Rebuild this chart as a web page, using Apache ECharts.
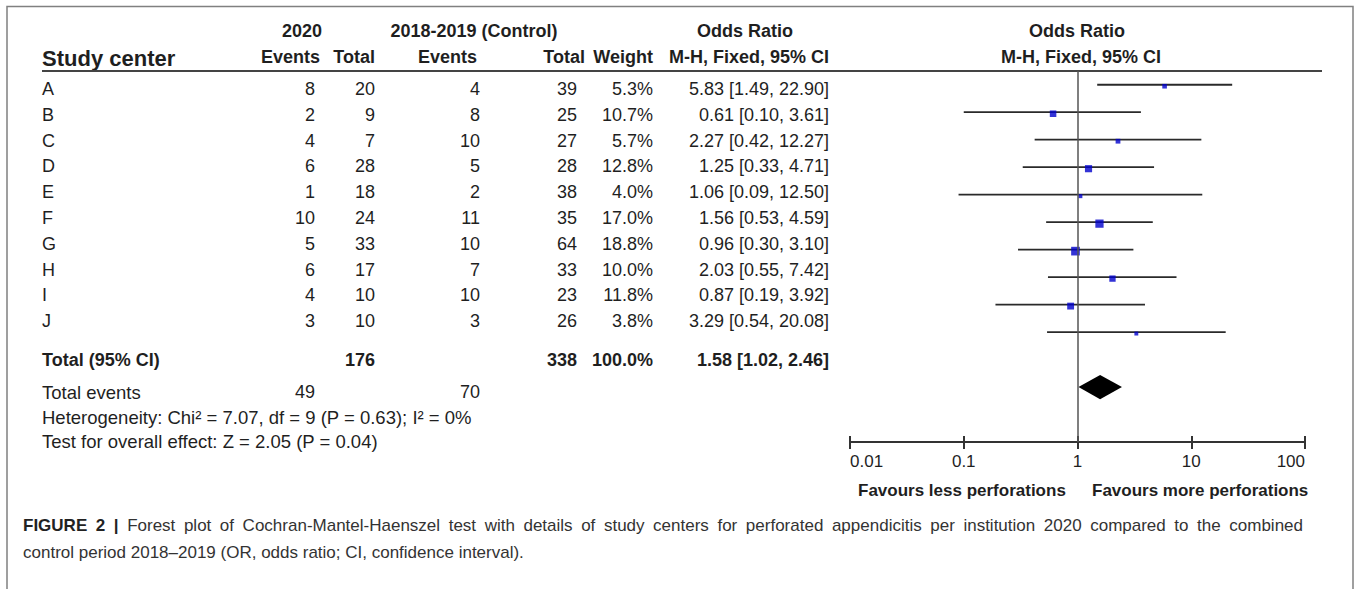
<!DOCTYPE html>
<html>
<head>
<meta charset="utf-8">
<script src="https://cdn.jsdelivr.net/npm/echarts@6/dist/echarts.min.js"></script>
<style>
html,body{margin:0;padding:0;background:#fff;}
#chart{width:1357px;height:589px;}
</style>
</head>
<body>
<div id="chart"></div>
<script>
// ---- data ----
var centers = ['A','B','C','D','E','F','G','H','I','J'];
var events2020 = [8,2,4,6,1,10,5,6,4,3];
var total2020 = [20,9,7,28,18,24,33,17,10,10];
var eventsCtrl = [4,8,10,5,2,11,10,7,10,3];
var totalCtrl = [39,25,27,28,38,35,64,33,23,26];
var weights = [5.3,10.7,5.7,12.8,4.0,17.0,18.8,10.0,11.8,3.8];
var orVals = [5.83,0.61,2.27,1.25,1.06,1.56,0.96,2.03,0.87,3.29];
var ciLow = [1.49,0.10,0.42,0.33,0.09,0.53,0.30,0.55,0.19,0.54];
var ciHigh = [22.90,3.61,12.27,4.71,12.50,4.59,3.10,7.42,3.92,20.08];
var pooled = {or:1.58, lo:1.02, hi:2.46, total2020:176, totalCtrl:338, weight:'100.0%', events2020:49, eventsCtrl:70};
var axisTicks = [0.01,0.1,1,10,100];
var heterogeneityText = 'Heterogeneity: Chi\u00b2 = 7.07, df = 9 (P = 0.63); I\u00b2 = 0%';
var overallText = 'Test for overall effect: Z = 2.05 (P = 0.04)';
var favourLeft = 'Favours less perforations';
var favourRight = 'Favours more perforations';
var captionBold = 'FIGURE 2 |';
var captionLine1 = 'Forest plot of Cochran-Mantel-Haenszel test with details of study centers for perforated appendicitis per institution 2020 compared to the combined';
var captionLine2 = 'control period 2018\u20132019 (OR, odds ratio; CI, confidence interval).';

// ---- layout helpers ----
var FONT = "'Liberation Sans', Arial, Helvetica, sans-serif";
var INK = '#1f1f1f';
function fmt(v){ return v.toFixed(2); }
function orLabel(o,l,h){ return fmt(o) + ' [' + fmt(l) + ', ' + fmt(h) + ']'; }
function txt(x, y, text, align, bold, size, color){
  return {type:'text', x:x, y:y, silent:true, style:{
    text:text, textAlign:align||'left', textVerticalAlign:'middle',
    fontSize:size||18, fontWeight:bold?'bold':'normal', fontFamily:FONT, fill:color||INK}};
}
var g = [];
// frame
g.push({type:'polyline', silent:true, shape:{points:[[7,589],[7,6.5],[1353,6.5],[1353,589]]}, style:{stroke:'#808080', lineWidth:1.5, fill:null}});
// header
g.push(txt(302, 31, '2020', 'center', true, 18));
g.push(txt(474, 31, '2018-2019 (Control)', 'center', true, 18));
g.push(txt(745, 31, 'Odds Ratio', 'center', true, 18));
g.push(txt(1077, 31, 'Odds Ratio', 'center', true, 18));
g.push(txt(42, 58, 'Study center', 'left', true, 22));
g.push(txt(320, 57, 'Events', 'right', true, 18));
g.push(txt(375, 57, 'Total', 'right', true, 18));
g.push(txt(477, 57, 'Events', 'right', true, 18));
g.push(txt(585, 57, 'Total', 'right', true, 18));
g.push(txt(653, 57, 'Weight', 'right', true, 18));
g.push(txt(829, 57, 'M-H, Fixed, 95% CI', 'right', true, 18));
g.push(txt(1081, 57, 'M-H, Fixed, 95% CI', 'center', true, 18));
g.push({type:'line', silent:true, shape:{x1:42,y1:71,x2:1322,y2:71}, style:{stroke:'#444', lineWidth:2}});
// rows
for (var i=0;i<centers.length;i++){
  var y = 89 + 25.8*i;
  g.push(txt(42, y, centers[i], 'left', false, 18));
  g.push(txt(315, y, String(events2020[i]), 'right', false, 18));
  g.push(txt(375, y, String(total2020[i]), 'right', false, 18));
  g.push(txt(480, y, String(eventsCtrl[i]), 'right', false, 18));
  g.push(txt(577, y, String(totalCtrl[i]), 'right', false, 18));
  g.push(txt(653, y, weights[i].toFixed(1) + '%', 'right', false, 18));
  g.push(txt(829, y, orLabel(orVals[i], ciLow[i], ciHigh[i]), 'right', false, 18));
}
// totals
g.push(txt(42, 360, 'Total (95% CI)', 'left', true, 18));
g.push(txt(375, 360, String(pooled.total2020), 'right', true, 18));
g.push(txt(577, 360, String(pooled.totalCtrl), 'right', true, 18));
g.push(txt(653, 360, pooled.weight, 'right', true, 18));
g.push(txt(829, 360, orLabel(pooled.or, pooled.lo, pooled.hi), 'right', true, 18));
g.push(txt(42, 392, 'Total events', 'left', false, 18.5));
g.push(txt(315, 392, String(pooled.events2020), 'right', false, 18));
g.push(txt(480, 392, String(pooled.eventsCtrl), 'right', false, 18));
g.push(txt(42, 417, heterogeneityText, 'left', false, 18.5));
g.push(txt(42, 441, overallText, 'left', false, 18.5));
g.push(txt(858, 490, favourLeft, 'left', true, 17));
g.push(txt(1092, 490, favourRight, 'left', true, 17));

// caption (first line justified like the journal layout)
var CAP = 17;
var ctx = document.createElement('canvas').getContext('2d');
function w(s, bold){ ctx.font = (bold?'bold ':'') + CAP + "px 'Liberation Sans', Arial, sans-serif"; return ctx.measureText(s).width; }
var words = [];
captionBold.split(' ').forEach(function(s){ words.push({t:s, b:true}); });
captionLine1.split(' ').forEach(function(s){ words.push({t:s, b:false}); });
var capLeft = 23, capRight = 1303, sum = 0;
words.forEach(function(o){ o.w = w(o.t, o.b); sum += o.w; });
var gap = (capRight - capLeft - sum) / (words.length - 1);
var cx = capLeft;
words.forEach(function(o){
  g.push(txt(cx, 525, o.t, 'left', o.b, CAP, o.b ? '#222' : '#333'));
  cx += o.w + gap;
});
g.push(txt(capLeft, 552, captionLine2, 'left', false, CAP, '#333'));

// ---- series data ----
var ciData = [], sqData = [];
for (var k=0;k<centers.length;k++){
  ciData.push([ciLow[k], ciHigh[k], k+0.5]);
  sqData.push([orVals[k], k+0.5, weights[k]]);
}
var diamondData = [[pooled.lo, pooled.or, pooled.hi, 11.5]];

var chart = echarts.init(document.getElementById('chart'), null, {renderer:'svg'});
chart.setOption({
  animation:false,
  backgroundColor:'#fff',
  graphic:g,
  grid:{left:850, right:52, top:71, bottom:147, containLabel:false},
  xAxis:[{
    type:'log', logBase:10, min:axisTicks[0], max:axisTicks[axisTicks.length-1], position:'bottom',
    axisLine:{show:true, onZero:false, lineStyle:{color:'#333', width:2}},
    axisTick:{show:true, inside:false, length:7, lineStyle:{color:'#333', width:2}},
    minorTick:{show:false}, splitLine:{show:false},
    axisLabel:{show:true, margin:11, fontSize:17, fontFamily:FONT, color:INK,
      alignMinLabel:'left', alignMaxLabel:'right',
      formatter:function(v){ return String(+(+v).toPrecision(6)); }}
  },{
    type:'log', logBase:10, min:axisTicks[0], max:axisTicks[axisTicks.length-1], position:'bottom', offset:0,
    axisLine:{show:false, onZero:false},
    axisTick:{show:true, inside:true, length:6, lineStyle:{color:'#333', width:2}},
    axisLabel:{show:false}, splitLine:{show:false}
  }],
  yAxis:{type:'value', min:0, max:13.5, inverse:true, show:false},
  series:[
    {
      type:'custom', name:'CI', silent:true, data:ciData,
      renderItem:function(params, api){
        var p1 = api.coord([api.value(0), api.value(2)]);
        var p2 = api.coord([api.value(1), api.value(2)]);
        return {type:'line', shape:{x1:p1[0], y1:p1[1], x2:p2[0], y2:p2[1]}, style:{stroke:'#2a2a2a', lineWidth:1.8}};
      },
      markLine:{silent:true, symbol:'none', label:{show:false},
        lineStyle:{color:'#555', width:1.5, type:'solid'},
        data:[{xAxis:1}]}
    },
    {
      type:'scatter', name:'OR', silent:true, data:sqData, symbol:'rect',
      symbolSize:function(v){ return 2*Math.sqrt(v[2]); },
      symbolOffset:[0,1.5],
      itemStyle:{color:'#0000cc'}
    },
    {
      type:'custom', name:'Pooled', silent:true, data:diamondData,
      renderItem:function(params, api){
        var y = api.value(3);
        var l = api.coord([api.value(0), y]);
        var c = api.coord([api.value(1), y]);
        var r = api.coord([api.value(2), y]);
        var h = api.size([0, 0.44])[1];
        return {type:'polygon', shape:{points:[[l[0],l[1]],[c[0],c[1]-h],[r[0],r[1]],[c[0],c[1]+h]]}, style:{fill:'#000'}};
      }
    }
  ]
});
</script>
</body>
</html>
